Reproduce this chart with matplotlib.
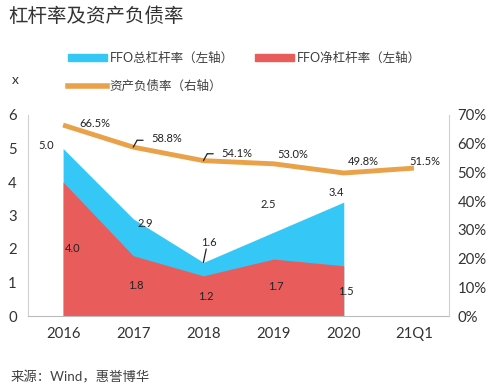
import matplotlib
matplotlib.use("Agg")
import matplotlib.pyplot as plt
from matplotlib.patches import Patch
from matplotlib.lines import Line2D

plt.rcParams['font.family'] = ['Lato', 'Noto Sans CJK SC', 'DejaVu Sans']

categories = ['2016', '2017', '2018', '2019', '2020', '21Q1']
ffo_total = [5.0, 2.9, 1.6, 2.5, 3.4]
ffo_net = [4.0, 1.8, 1.2, 1.7, 1.5]
debt_ratio = [66.5, 58.8, 54.1, 53.0, 49.8, 51.5]

blue = '#35C8F7'
red = '#E85D5B'
orange = '#E9A24A'

fig = plt.figure(figsize=(4.98, 3.9), dpi=100)
ax = fig.add_axes([28/498, 1-316/390, (449-28)/498, (316-115)/390])
ax2 = ax.twinx()

x_area = list(range(len(ffo_total)))
x_all = list(range(len(categories)))
ax.fill_between(x_area, 0, ffo_total, color=blue, lw=0, zorder=1)
ax.fill_between(x_area, 0, ffo_net, color=red, lw=0, zorder=2)
ax.set_xlim(-0.5, len(categories) - 0.5)
ax.set_ylim(0, 6)
ax.set_yticks(range(0, 7))
ax.set_xticks(x_all)
ax.set_xticklabels(categories)

ax2.plot(x_all, debt_ratio, color=orange, lw=3.5, solid_capstyle='butt', zorder=3)
ax2.set_ylim(0, 70)
ax2.set_yticks(range(0, 71, 10))
ax2.set_yticklabels([f'{v}%' for v in range(0, 71, 10)])

for a in (ax, ax2):
    a.tick_params(length=0, labelsize=10.7, colors='#333333')
    a.spines['top'].set_visible(False)
    a.spines['left'].set_color('#D0D0D0')
    a.spines['right'].set_color('#D0D0D0')
    a.spines['bottom'].set_color('#BBBBBB')
ax.tick_params(axis='x', pad=8)
ax.tick_params(axis='y', pad=8)
ax2.tick_params(axis='y', pad=6)
ax.spines['right'].set_visible(False)
ax2.spines['left'].set_visible(False)
ax2.spines['bottom'].set_visible(False)

fs = 8
tot_off = [(-12, 2), (9, -3), (4, 14), (-4, 20), (-5, 7)]
for i, v in enumerate(ffo_total):
    ax.annotate(f'{v:.1f}', (i, v), xytext=tot_off[i], textcoords='offset points',
                ha='center', va='center', fontsize=fs, color='#222222', zorder=5)
ax.annotate('', (2, ffo_total[2]), xytext=(2.04, 2.0),
            arrowprops=dict(arrowstyle='-', color='#222222', lw=0.9, shrinkA=0, shrinkB=0), zorder=5)
net_label_y = [2.0, 0.9, 0.57, 0.87, 0.72]
net_label_dx = [0.14, 0.03, 0.03, 0.03, 0.03]
for i, v in enumerate(ffo_net):
    ax.text(i + net_label_dx[i], net_label_y[i], f'{v:.1f}', ha='center', va='center',
            fontsize=fs, color='#222222', zorder=5)

debt_off = [(23, 1), (24, 6), (24, 5), (14, 7), (14, 8), (8, 5)]
for i, v in enumerate(debt_ratio):
    ax2.annotate(f'{v:.1f}%', (i, v), xytext=debt_off[i], textcoords='offset points',
                 ha='center', va='center', fontsize=fs, color='#222222', zorder=5)
for i in (1, 2):
    ax2.annotate('', (i, debt_ratio[i]), xytext=(i + 0.055, debt_ratio[i] + 2.4),
                 arrowprops=dict(arrowstyle='-', color='#222222', lw=0.9, shrinkA=0, shrinkB=0), zorder=5)
    ax2.annotate('', (i + 0.055, debt_ratio[i] + 2.4), xytext=(i + 0.14, debt_ratio[i] + 2.4),
                 arrowprops=dict(arrowstyle='-', color='#222222', lw=0.9, shrinkA=0, shrinkB=0), zorder=5)

fig.text(8/498, 1-16/390, '杠杆率及资产负债率', fontsize=14, fontweight='medium',
         color='#333333', va='center', ha='left')
fig.text(12/498, 1-80/390, 'x', fontsize=10, color='#333333', va='center', ha='left')
fig.text(11/498, 1-377/390, '来源：Wind，惠誉博华', fontsize=9.6, color='#404040', va='center', ha='left')

handles = [Patch(color=blue), Patch(color=red), Line2D([], [], color=orange, lw=4)]
labels = ['FFO总杠杆率（左轴）', 'FFO净杠杆率（左轴）', '资产负债率（右轴）']
leg_kw = dict(frameon=False, fontsize=9.0, handlelength=3.1, handletextpad=0.25,
              borderpad=0, borderaxespad=0, labelcolor='#404040')
fig.legend(handles[:2], labels[:2], loc='center left', bbox_to_anchor=(68/498, 1-58/390),
           ncol=2, handleheight=0.55, columnspacing=1.7, **leg_kw)
fig.legend(handles[2:], labels[2:], loc='center left', bbox_to_anchor=(68/498, 1-86/390),
           **leg_kw)

fig.savefig('out.png', dpi=100)
